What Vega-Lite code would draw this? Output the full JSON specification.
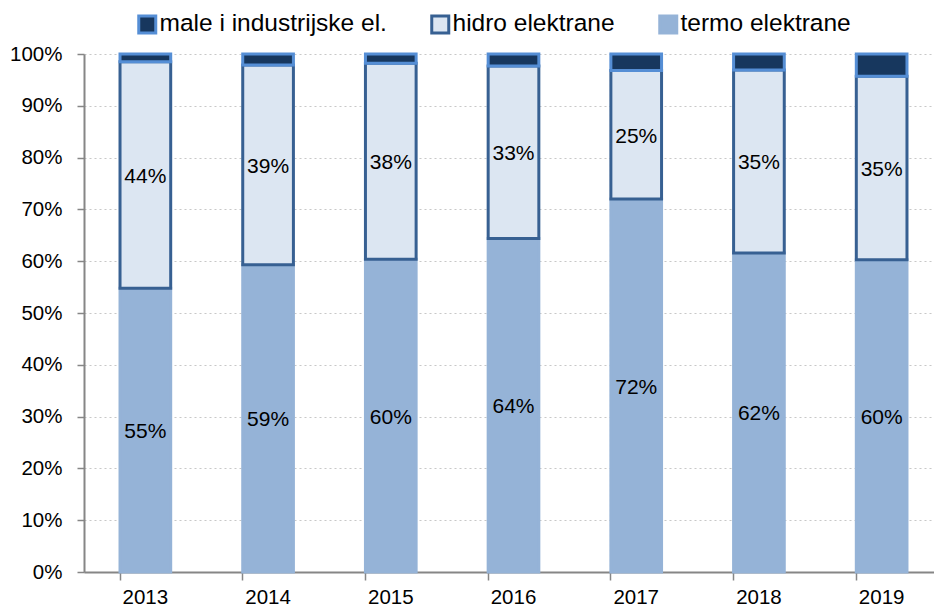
{
  "$schema": "https://vega.github.io/schema/vega-lite/v6.json",
  "autosize": "none",
  "width": 850,
  "height": 518,
  "padding": {"left": 84, "top": 54, "right": 0, "bottom": 41},
  "background": "white",
  "config": {
    "font": "Liberation Sans",
    "view": {"stroke": null},
    "axis": {"labelFont": "Liberation Sans", "labelColor": "#000000", "labelFontSize": 20.5}
  },
  "data": {
    "values": [
      {"year": "2013", "series": "termo elektrane", "value": 0.548, "ord": 1},
      {"year": "2013", "series": "hidro elektrane", "value": 0.437, "ord": 2},
      {"year": "2013", "series": "male i industrijske el.", "value": 0.015, "ord": 3},
      {"year": "2014", "series": "termo elektrane", "value": 0.593, "ord": 1},
      {"year": "2014", "series": "hidro elektrane", "value": 0.386, "ord": 2},
      {"year": "2014", "series": "male i industrijske el.", "value": 0.021, "ord": 3},
      {"year": "2015", "series": "termo elektrane", "value": 0.604, "ord": 1},
      {"year": "2015", "series": "hidro elektrane", "value": 0.378, "ord": 2},
      {"year": "2015", "series": "male i industrijske el.", "value": 0.018, "ord": 3},
      {"year": "2016", "series": "termo elektrane", "value": 0.644, "ord": 1},
      {"year": "2016", "series": "hidro elektrane", "value": 0.333, "ord": 2},
      {"year": "2016", "series": "male i industrijske el.", "value": 0.023, "ord": 3},
      {"year": "2017", "series": "termo elektrane", "value": 0.720, "ord": 1},
      {"year": "2017", "series": "hidro elektrane", "value": 0.248, "ord": 2},
      {"year": "2017", "series": "male i industrijske el.", "value": 0.032, "ord": 3},
      {"year": "2018", "series": "termo elektrane", "value": 0.616, "ord": 1},
      {"year": "2018", "series": "hidro elektrane", "value": 0.353, "ord": 2},
      {"year": "2018", "series": "male i industrijske el.", "value": 0.031, "ord": 3},
      {"year": "2019", "series": "termo elektrane", "value": 0.603, "ord": 1},
      {"year": "2019", "series": "hidro elektrane", "value": 0.354, "ord": 2},
      {"year": "2019", "series": "male i industrijske el.", "value": 0.043, "ord": 3}
    ]
  },
  "layer": [
    {
      "mark": {"type": "bar", "strokeWidth": 3},
      "encoding": {
        "x": {
          "field": "year", "type": "nominal",
          "scale": {"range": [0, 859], "paddingInner": 0.587, "paddingOuter": 0.2935},
          "axis": {
            "title": null, "labelAngle": 0, "bandPosition": 0,
            "grid": true, "gridColor": "#C8C8C8", "gridDash": [2, 3], "gridWidth": 1.2,
            "domainColor": "#868686", "domainWidth": 2,
            "tickColor": "#868686", "tickSize": 8, "tickWidth": 1.5,
            "labelPadding": 7
          }
        },
        "y": {
          "field": "value", "type": "quantitative", "stack": "zero",
          "scale": {"domain": [0, 1], "nice": false},
          "axis": {
            "title": null, "format": ".0%",
            "values": [0, 0.1, 0.2, 0.3, 0.4, 0.5, 0.6, 0.7, 0.8, 0.9, 1],
            "grid": true, "gridColor": "#C8C8C8", "gridDash": [2, 3], "gridWidth": 1.2,
            "domainColor": "#868686", "domainWidth": 2,
            "tickColor": "#868686", "tickSize": 7, "tickWidth": 1.5,
            "labelPadding": 15
          }
        },
        "order": {"field": "ord", "type": "quantitative"},
        "fill": {
          "field": "series", "type": "nominal",
          "scale": {
            "domain": ["male i industrijske el.", "hidro elektrane", "termo elektrane"],
            "range": ["#17375E", "#DCE6F2", "#95B3D7"]
          },
          "legend": {
            "title": null, "orient": "none", "direction": "horizontal",
            "legendX": 51, "legendY": -42,
            "symbolType": "square", "symbolSize": 289, "symbolStrokeWidth": 3,
            "labelFontSize": 24.5, "labelColor": "#000000", "labelFont": "Liberation Sans",
            "labelOffset": 0, "columnPadding": 38, "labelLimit": 0
          }
        },
        "stroke": {
          "field": "series", "type": "nominal",
          "scale": {
            "domain": ["male i industrijske el.", "hidro elektrane", "termo elektrane"],
            "range": ["#558ED5", "#376092", "#95B3D7"]
          },
          "legend": {
            "title": null, "orient": "none", "direction": "horizontal",
            "legendX": 51, "legendY": -42,
            "symbolType": "square", "symbolSize": 289, "symbolStrokeWidth": 3,
            "labelFontSize": 24.5, "labelColor": "#000000", "labelFont": "Liberation Sans",
            "labelOffset": 0, "columnPadding": 38, "labelLimit": 0
          }
        }
      }
    },
    {
      "transform": [
        {"stack": "value", "groupby": ["year"], "sort": [{"field": "ord"}], "as": ["v0", "v1"]},
        {"calculate": "(datum.v0 + datum.v1) / 2", "as": "mid"},
        {"filter": "datum.series != 'male i industrijske el.'"}
      ],
      "mark": {"type": "text", "fontSize": 21, "color": "#000000", "baseline": "middle", "align": "center", "dy": 2},
      "encoding": {
        "x": {"field": "year", "type": "nominal"},
        "y": {"field": "mid", "type": "quantitative"},
        "text": {"field": "value", "type": "quantitative", "format": ".0%"}
      }
    }
  ]
}
